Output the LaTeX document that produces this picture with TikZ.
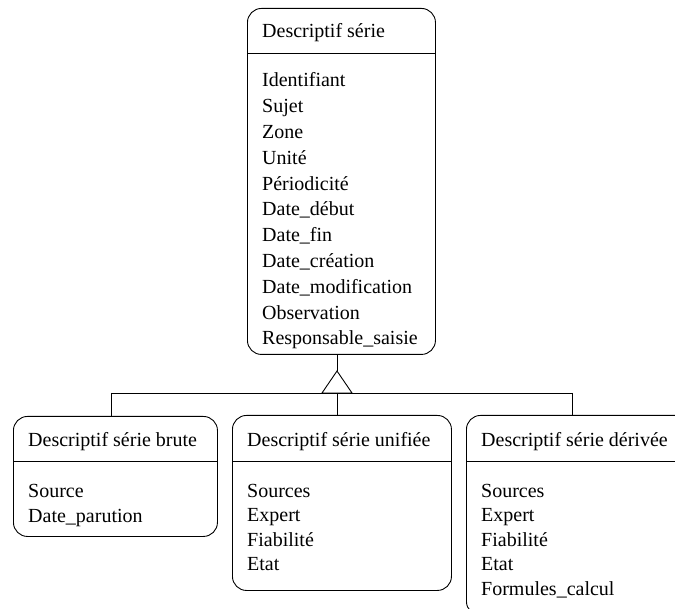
\documentclass[tikz,border=0pt]{standalone}
\usepackage{fontspec}
\setmainfont{Liberation Serif}
\begin{document}
\begin{tikzpicture}[x=1pt,y=-1pt,
  box/.style={draw, line width=0.9pt, rounded corners=14pt, inner sep=0pt, anchor=north west},
  sep/.style={line width=0.9pt},
  conn/.style={line width=0.9pt},
  lbl/.style={anchor=base west, inner sep=0pt, font=\fontsize{20}{24}\selectfont}]
\useasboundingbox (0,0) rectangle (675,609);
\clip (0,0) rectangle (675,609);
% super class
\node[box, minimum width=188pt, minimum height=346pt] (sup) at (247,8) {};
\draw[sep] ([yshift=-45pt]sup.north west) -- ([yshift=-45pt]sup.north east);
\node[lbl] (suph) at (262,38) {Descriptif série};
\foreach \t [count=\i] in {Identifiant, Sujet, Zone, Unité, Périodicité, Date\_début, Date\_fin, Date\_création, Date\_modification, Observation, Responsable\_saisie}
  \node[lbl] (sup\i) at (262,{87+(\i-1)*25.8}) {\t};
% brute
\node[box, minimum width=204pt, minimum height=120pt] (bru) at (13,416) {};
\draw[sep] ([yshift=-45pt]bru.north west) -- ([yshift=-45pt]bru.north east);
\node[lbl] (bruh) at (28,447) {Descriptif série brute};
\foreach \t [count=\i] in {Source, Date\_parution}
  \node[lbl] (bru\i) at (28,{497+(\i-1)*25}) {\t};
% unifiee
\node[box, minimum width=219pt, minimum height=175pt] (uni) at (232,415) {};
\draw[sep] ([yshift=-46pt]uni.north west) -- ([yshift=-46pt]uni.north east);
\node[lbl] (unih) at (247,447) {Descriptif série unifiée};
\foreach \t [count=\i] in {Sources, Expert, Fiabilité, Etat}
  \node[lbl] (uni\i) at (247,{497+(\i-1)*24.6}) {\t};
% derivee
\node[box, minimum width=226pt, minimum height=200pt] (der) at (466,415) {};
\draw[sep] ([yshift=-46pt]der.north west) -- ([yshift=-46pt]der.north east);
\node[lbl] (derh) at (481,447) {Descriptif série dérivée};
\foreach \t [count=\i] in {Sources, Expert, Fiabilité, Etat, Formules\_calcul}
  \node[lbl] (der\i) at (481,{497+(\i-1)*24.6}) {\t};
% generalization
\coordinate (apex) at (337,371);
\coordinate (bl) at (322,393);
\coordinate (br) at (352,393);
\coordinate (hl) at (111,393);
\coordinate (hm) at (338,393);
\coordinate (hr) at (572,393);
\draw[conn] (apex |- sup.south) -- (apex);
\draw[conn] (bl) -- (apex) -- (br) -- cycle;
\draw[conn] (hl) -- (hr);
\draw[conn] (hl) -- (hl |- bru.north);
\draw[conn] (337,393) -- (337,415);
\draw[conn] (hr) -- (hr |- der.north);
\end{tikzpicture}
\end{document}
